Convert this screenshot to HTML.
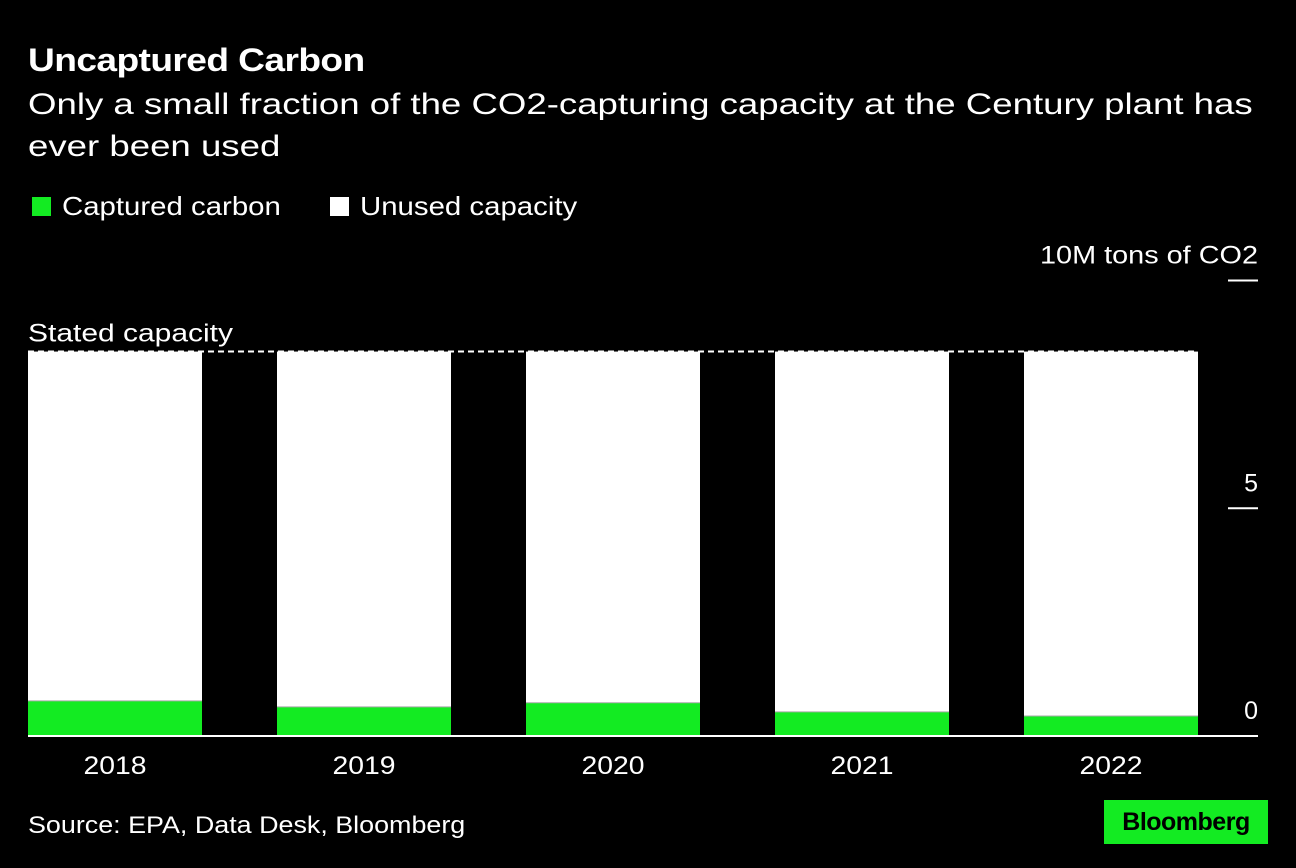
<!DOCTYPE html>
<html><head><meta charset="utf-8"><style>
body{margin:0;background:#000;width:1296px;height:868px;overflow:hidden;font-family:"Liberation Sans",sans-serif;color:#fff}
.t{position:absolute;white-space:nowrap;transform-origin:0 0}
</style></head><body>
<div class="t" style="left:28px;top:42px;font-size:32px;font-weight:bold;letter-spacing:-0.5px;transform:scaleX(1.16)">Uncaptured Carbon</div>
<div class="t" style="left:28px;top:84px;font-size:30px;line-height:42px;transform:scaleX(1.22)">Only a small fraction of the CO2-capturing capacity at the Century plant has<br>ever been used</div>
<div class="t" style="left:32px;top:191px;font-size:26px"><span style="display:inline-block;width:19px;height:19px;background:#13eb22;margin-right:11px;vertical-align:-1px"></span><span style="display:inline-block;transform:scaleX(1.13);transform-origin:0 0">Captured carbon</span></div>
<div class="t" style="left:330px;top:191px;font-size:26px"><span style="display:inline-block;width:19px;height:19px;background:#fff;margin-right:11px;vertical-align:-1px"></span><span style="display:inline-block;transform:scaleX(1.13);transform-origin:0 0">Unused capacity</span></div>
<svg id="chart" width="1296" height="868" style="position:absolute;left:0;top:0"></svg>
<div class="t" style="left:28px;top:812px;font-size:24px;transform:scaleX(1.12)">Source: EPA, Data Desk, Bloomberg</div>
<div class="t" style="left:1104px;top:800px;width:164px;height:44px;background:#13eb22;color:#000;font-size:25px;font-weight:bold;line-height:44px;text-align:center;letter-spacing:-0.5px">Bloomberg</div>
<script>
const years=["2018","2019","2020","2021","2022"];
const captured=[0.77,0.64,0.73,0.53,0.44];
const capacity=8.44;
const ticks=[0,5,10];
const tickLabels=["0","5","10M tons of CO2"];
const NS="http://www.w3.org/2000/svg";
const svg=document.getElementById('chart');
const y=v=>736-v*45.55;
const x=i=>28+i*249;
const bw=174;
function mk(t,a){const e=document.createElementNS(NS,t);for(const k in a)e.setAttribute(k,a[k]);svg.appendChild(e);return e;}
years.forEach((yr,i)=>{
 let r=mk('rect',{x:x(i),y:y(capacity),width:bw,height:y(captured[i])-y(capacity),fill:'#fff'});
 
 
 let g=mk('rect',{x:x(i),y:y(captured[i]),width:bw,height:y(0)-y(captured[i]),fill:'#13eb22'});
 
 
 mk('line',{x1:x(i),x2:x(i)+bw,y1:y(captured[i]),y2:y(captured[i]),stroke:'#aaa','stroke-width':1});
 let t=mk('text',{x:x(i)+bw/2,y:774,'text-anchor':'middle',fill:'#fff','font-size':25,'font-family':'Liberation Sans',textLength:63,lengthAdjust:'spacingAndGlyphs'});
 t.textContent=yr;
 
 
});
let d=mk('line',{x1:28,x2:1198,y1:y(capacity),y2:y(capacity),stroke:'#fff','stroke-width':2,'stroke-dasharray':'6,4'});


let dl=mk('text',{x:28,y:y(capacity)-10,fill:'#fff','font-size':25,'font-family':'Liberation Sans',textLength:205,lengthAdjust:'spacingAndGlyphs'});
dl.textContent='Stated capacity';


let base=mk('line',{x1:28,x2:1258,y1:y(0),y2:y(0),stroke:'#fff','stroke-width':2});


ticks.forEach((v,i)=>{
 if(v>0){let tm=mk('line',{x1:1228,x2:1258,y1:y(v),y2:y(v),stroke:'#fff','stroke-width':2});
 
 }
 let a={x:1258,y:y(v)-17,'text-anchor':'end',fill:'#fff','font-size':25,'font-family':'Liberation Sans'};
 if(tickLabels[i].length>3){a.textLength=218;a.lengthAdjust='spacingAndGlyphs';}
 let t=mk('text',a);
 t.textContent=tickLabels[i];
 
 
});
</script>
</body></html>
